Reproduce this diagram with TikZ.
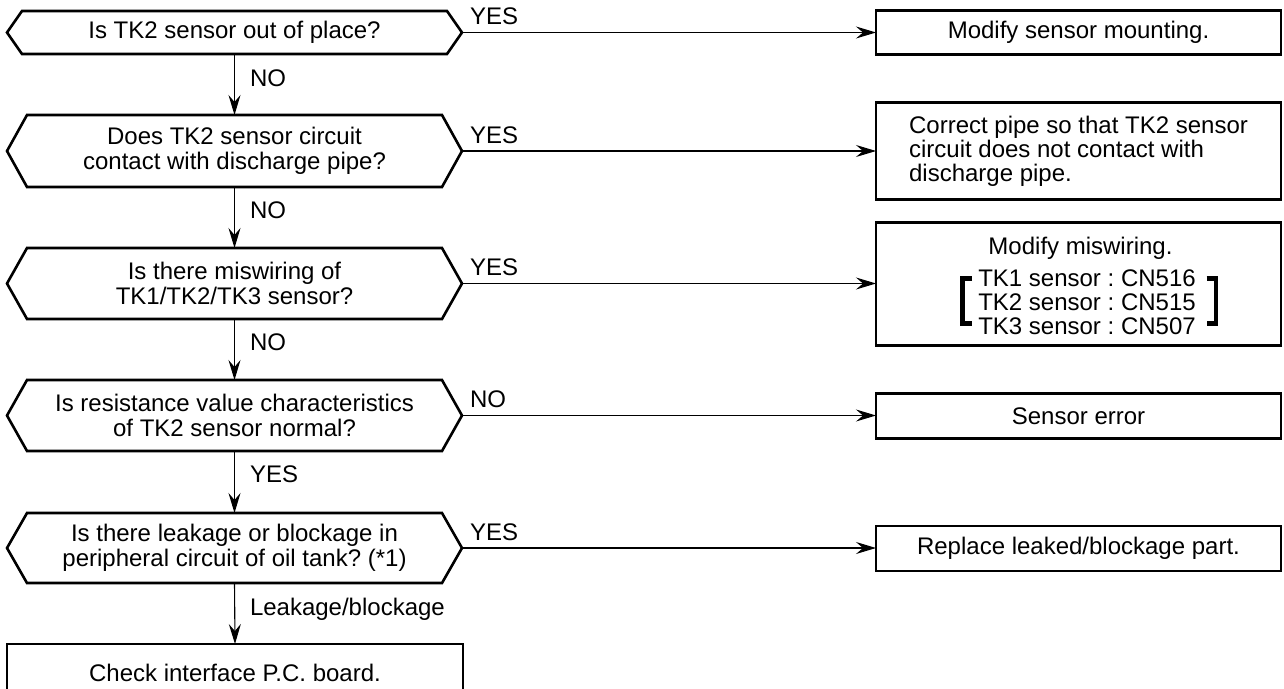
\documentclass[tikz,border=0pt]{standalone}
\usepackage{fontspec}
\setmainfont{Liberation Sans}
\usetikzlibrary{arrows.meta}
\frenchspacing
\newcommand{\decpath}[2]{\draw[decline] (#1.west) -- ([xshift=#2]#1.north west) -- ([xshift=-#2]#1.north east) -- (#1.east) -- ([xshift=-#2]#1.south east) -- ([xshift=#2]#1.south west) -- cycle;}
\begin{document}
\begin{tikzpicture}[x=1pt,y=-1pt,
  every node/.style={font=\fontsize{24pt}{25pt}\selectfont\frenchspacing, inner sep=0pt, outer sep=0pt},
  dec/.style={minimum width=455pt, align=center},
  decline/.style={line width=2.6pt, line join=miter},
  box/.style={draw, line width=2.6pt, minimum width=405pt, align=center, font=\fontsize{24pt}{24pt}\selectfont\frenchspacing},
  flow/.style={line width=1.1pt, -{Stealth[length=20pt,width=12pt,inset=7pt]}},
  lbl/.style={anchor=base west},
  brk/.style={line width=4.5pt, line join=miter}
]
\useasboundingbox (0,0) rectangle (1284,688);
\clip (0,0) rectangle (1284,688);

% decisions
\node[dec, minimum height=43pt] (d1) at (234.5,32.5) {Is TK2 sensor out of place?};
\node[dec, minimum height=72pt] (d2) at (234.5,151) {Does TK2 sensor circuit\\contact with discharge pipe?};
\node[dec, minimum height=71pt] (d3) at (234.5,283.5) {Is there miswiring of\\TK1/TK2/TK3 sensor?};
\node[dec, minimum height=71pt] (d4) at (234.5,415.5) {Is resistance value characteristics\\of TK2 sensor normal?};
\node[dec, minimum height=70pt] (d5) at (234.5,548) {Is there leakage or blockage in\\peripheral circuit of oil tank? (*1)};
\decpath{d1}{15pt}
\decpath{d2}{20pt}
\decpath{d3}{20pt}
\decpath{d4}{20pt}
\decpath{d5}{20pt}

% final box bottom-left
\node[box, minimum width=456pt, minimum height=58pt] (ck) at (235,673) {Check interface P.C. board.};

% right boxes
\node[box, minimum height=44pt] (b1) at (1078.5,32.5) {Modify sensor mounting.};
\node[box, minimum height=97pt, align=left] (b2) at (1078.5,151) {Correct pipe so that TK2 sensor\\circuit does not contact with\\discharge pipe.};
\node[box, minimum height=123pt] (b3) at (1078.5,284) {};
\node (b3t) at (1080.5,248) {Modify miswiring.};
\node[align=left, font=\fontsize{24pt}{24pt}\selectfont\frenchspacing] (b3l) at (1087,302) {TK1 sensor : CN516\\TK2 sensor : CN515\\TK3 sensor : CN507};
\draw[brk] (972,278.5) -- (962.5,278.5) -- (962.5,323.5) -- (972,323.5);
\draw[brk] (1206.5,278.5) -- (1216,278.5) -- (1216,323.5) -- (1206.5,323.5);
\node[box, minimum height=45pt] (b4) at (1078.5,416) {Sensor error};
\node[box, minimum height=45pt] (b5) at (1078.5,548.5) {Replace leaked/blockage part.};

% vertical flow
\draw[flow] (d1.south) -- (d2.north) node[pos=0, lbl, xshift=15.5pt, yshift=-32pt] {NO};
\draw[flow] (d2.south) -- (d3.north) node[pos=0, lbl, xshift=15.5pt, yshift=-31pt] {NO};
\draw[flow] (d3.south) -- (d4.north) node[pos=0, lbl, xshift=15.5pt, yshift=-31pt] {NO};
\draw[flow] (d4.south) -- (d5.north) node[pos=0, lbl, xshift=15.5pt, yshift=-31pt] {YES};
\draw[flow] (d5.south) -- (ck.north) node[pos=0, lbl, xshift=15.5pt, yshift=-32pt] {Leakage/blockage};

% horizontal flow
\draw[flow] (d1.east) -- (d1.east -| b1.west) node[pos=0, lbl, xshift=8pt, yshift=8pt] {YES};
\draw[flow] (d2.east) -- (d2.east -| b2.west) node[pos=0, lbl, xshift=8pt, yshift=8pt] {YES};
\draw[flow] (d3.east) -- (d3.east -| b3.west) node[pos=0, lbl, xshift=8pt, yshift=8pt] {YES};
\draw[flow] (d4.east) -- (d4.east -| b4.west) node[pos=0, lbl, xshift=8pt, yshift=8pt] {NO};
\draw[flow] (d5.east) -- (d5.east -| b5.west) node[pos=0, lbl, xshift=8pt, yshift=8pt] {YES};
\end{tikzpicture}
\end{document}
